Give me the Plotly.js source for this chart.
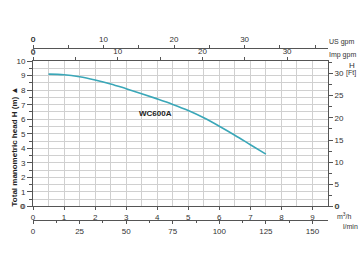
<!DOCTYPE html>
<html><head><meta charset="utf-8">
<script src="https://cdn.plot.ly/plotly-3.0.1.min.js"></script>
<style>html,body{margin:0;padding:0;background:#fff}#chart{width:360px;height:270px}</style>
</head><body><div id="chart"></div>
<script>
// Data (flow in m3/h, head in m)
const flowM3h = [0.5, 1.0, 1.5, 2.0, 2.5, 3.0, 3.5, 4.0, 4.5, 5.0, 5.5, 6.0, 6.5, 7.0, 7.5];
const headM   = [9.1, 9.06, 8.92, 8.70, 8.43, 8.10, 7.76, 7.40, 7.02, 6.60, 6.10, 5.52, 4.90, 4.25, 3.6];
const modelName = 'WC600A';
const m3hTicks = [0, 1, 2, 3, 4, 5, 6, 7, 8, 9];
const headTicks = [0, 1, 2, 3, 4, 5, 6, 7, 8, 9, 10];
const usGpmTicks = [0, 10, 20, 30];
const impGpmTicks = [0, 10, 20, 30];
const lminTicks = [0, 25, 50, 75, 100, 125, 150];
const ftTicks = [0, 5, 10, 15, 20, 25, 30];
const xMax = 9.5, yMax = 10;
const M3H_PER_IMPGPM = 0.272765, M3H_PER_USGPM = 0.227125, LMIN_PER_M3H = 16.6667, FT_PER_M = 3.28084;

const gridC = '#d0d0d0', lineC = '#555', font = {family: 'Liberation Sans, Arial, sans-serif', size: 8, color: '#333'};
const smallFont = {family: font.family, size: 7, color: '#333'};
const dom = [0.0785, 0.924];

const traces = [
  {x: flowM3h, y: headM, type: 'scatter', mode: 'lines', line: {color: '#3aa7b8', width: 1.6, shape: 'spline'}, hoverinfo: 'skip', xaxis: 'x', yaxis: 'y'},
  {x: [], y: [], type: 'scatter', xaxis: 'x2', yaxis: 'y', hoverinfo: 'skip'},
  {x: [], y: [], type: 'scatter', xaxis: 'x3', yaxis: 'y', hoverinfo: 'skip'},
  {x: [], y: [], type: 'scatter', xaxis: 'x4', yaxis: 'y', hoverinfo: 'skip'},
  {x: [], y: [], type: 'scatter', xaxis: 'x', yaxis: 'y2', hoverinfo: 'skip'}
];

const common = {showline: true, linecolor: lineC, linewidth: 1, tickcolor: lineC, ticks: 'outside', ticklen: 4, tickfont: font, zeroline: false, fixedrange: true, tickmode: 'array'};

const layout = {
  width: 360, height: 270,
  margin: {l: 33, r: 32, t: 48, b: 50},
  paper_bgcolor: '#fff', plot_bgcolor: '#fff',
  showlegend: false, font: font,
  xaxis: Object.assign({}, common, {range: [0, xMax], tickvals: m3hTicks, showgrid: true, gridcolor: gridC, gridwidth: 1, ticklen: 3,
    minor: {dtick: 0.5, tick0: 0, showgrid: true, gridcolor: gridC, ticks: ''}, anchor: 'y'}),
  yaxis: Object.assign({}, common, {domain: dom, range: [0, yMax], tickvals: headTicks, showgrid: true, gridcolor: gridC, gridwidth: 1, ticklen: 5,
    minor: {dtick: 0.5, tick0: 0, showgrid: true, gridcolor: gridC, ticks: 'outside', ticklen: 3, tickcolor: lineC}, anchor: 'x'}),
  xaxis2: Object.assign({}, common, {overlaying: 'x', anchor: 'y', side: 'top', range: [0, xMax / M3H_PER_IMPGPM], tickvals: impGpmTicks, showgrid: false, ticklen: 3,
    minor: {dtick: 5, tick0: 0, ticks: 'outside', ticklen: 3, tickcolor: lineC}}),
  xaxis3: Object.assign({}, common, {overlaying: 'x', anchor: 'free', position: 1, side: 'top', range: [0, xMax / M3H_PER_USGPM], tickvals: usGpmTicks, showgrid: false, ticklen: 3,
    minor: {dtick: 5, tick0: 0, ticks: 'outside', ticklen: 3, tickcolor: lineC}}),
  xaxis4: Object.assign({}, common, {overlaying: 'x', anchor: 'free', position: 0, side: 'bottom', range: [0, xMax * LMIN_PER_M3H], tickvals: lminTicks, showgrid: false, ticklen: 3,
    minor: {dtick: 12.5, tick0: 0, ticks: 'outside', ticklen: 2, tickcolor: lineC}}),
  yaxis2: Object.assign({}, common, {overlaying: 'y', anchor: 'x', side: 'right', domain: dom, range: [0, yMax * FT_PER_M], tickvals: ftTicks, showgrid: false, ticklen: 4,
    minor: {dtick: 2.5, tick0: 0, ticks: 'outside', ticklen: 3, tickcolor: lineC}}),
  annotations: [
    {text: '<b>' + modelName + '</b>', xref: 'x', yref: 'y', x: 3.94, y: 6.4, showarrow: false, font: {family: font.family, size: 8, color: '#222'}},
    {text: '<b>Total manometric head H (m) \u25B2</b>', xref: 'paper', yref: 'paper', x: -0.085, y: 0.43, textangle: -90, showarrow: false, font: {family: font.family, size: 8, color: '#222'}},
    {text: 'US gpm', xref: 'paper', yref: 'paper', x: 0.997, y: 1.035, xanchor: 'left', yanchor: 'middle', showarrow: false, font: smallFont},
    {text: 'Imp gpm', xref: 'paper', yref: 'paper', x: 0.997, y: 0.959, xanchor: 'left', yanchor: 'middle', showarrow: false, font: smallFont},
    {text: 'H', xref: 'paper', yref: 'paper', x: 1.081, y: 0.901, xanchor: 'center', yanchor: 'middle', showarrow: false, font: font},
    {text: '[Ft]', xref: 'paper', yref: 'paper', x: 1.055, y: 0.855, xanchor: 'left', yanchor: 'middle', showarrow: false, font: smallFont},
    {text: 'm<sup>3</sup>/h', xref: 'paper', yref: 'paper', x: 1.025, y: 0.025, xanchor: 'left', yanchor: 'middle', showarrow: false, font: smallFont},
    {text: 'l/min', xref: 'paper', yref: 'paper', x: 1.045, y: -0.04, xanchor: 'left', yanchor: 'middle', showarrow: false, font: smallFont},
    // zero labels at the origins that the axes leave out
    {text: String(impGpmTicks[0]), xref: 'x2', yref: 'paper', x: impGpmTicks[0], y: dom[1], yanchor: 'bottom', yshift: 2, showarrow: false, font: font},
    {text: String(usGpmTicks[0]), xref: 'x3', yref: 'paper', x: usGpmTicks[0], y: 1, yanchor: 'bottom', yshift: 2, showarrow: false, font: font},
    {text: String(headTicks[0]), xref: 'paper', yref: 'y', x: 0, y: headTicks[0], xanchor: 'right', xshift: -6, showarrow: false, font: font},
    {text: String(ftTicks[0]), xref: 'paper', yref: 'y2', x: 1, y: ftTicks[0], xanchor: 'left', xshift: 5, showarrow: false, font: font}
  ]
};

Plotly.newPlot('chart', traces, layout, {displayModeBar: false, staticPlot: true});
</script></body></html>
